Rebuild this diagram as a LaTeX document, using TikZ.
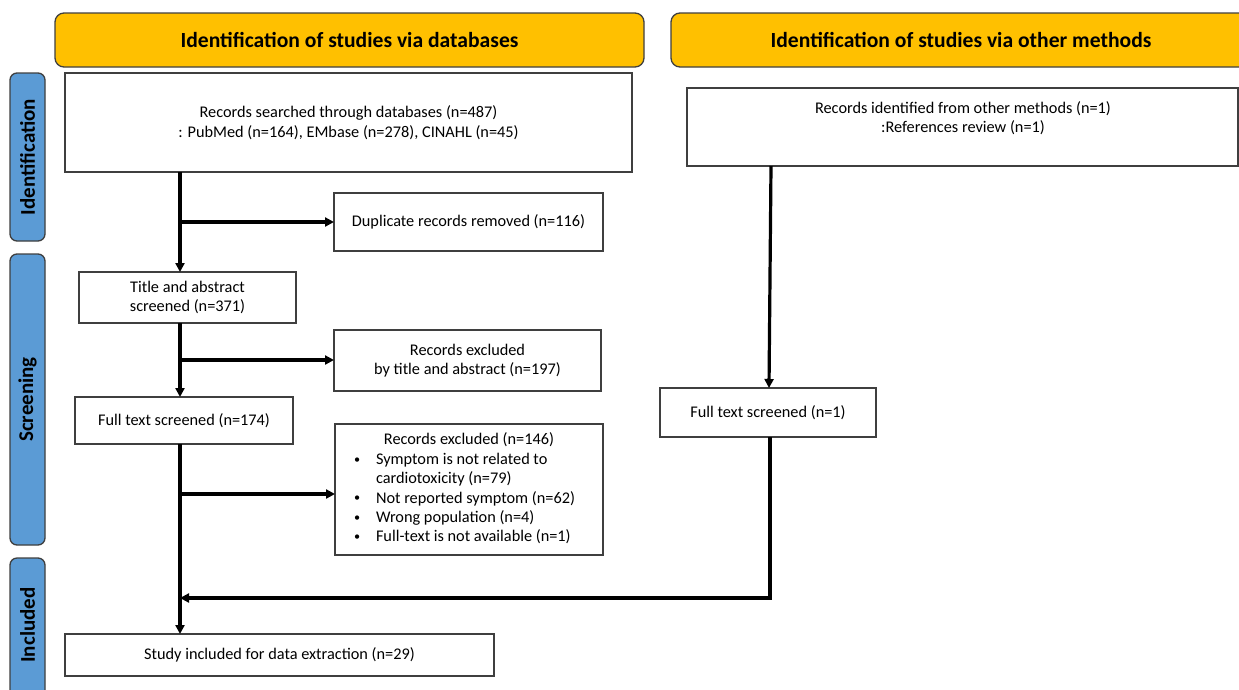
\documentclass[tikz,border=0pt]{standalone}
\usepackage{fontspec}
\setmainfont{Carlito}
\usetikzlibrary{arrows.meta}
\definecolor{hdr}{HTML}{FFC000}
\definecolor{side}{HTML}{5B9BD5}
\definecolor{bord}{HTML}{3F3F3F}
\tikzset{
  box/.style={draw=bord, line width=1.3pt, fill=white, inner sep=0pt, outer sep=0pt, anchor=north west, align=center, font=\fontsize{16.3}{19.4}\selectfont},
  hdrbox/.style={draw=bord, line width=1.3pt, fill=hdr, rounded corners=9pt, inner sep=0pt, outer sep=0pt, anchor=north west, font=\fontsize{21.6}{24}\selectfont\bfseries},
  sidebox/.style={draw=bord, line width=1.3pt, fill=side, rounded corners=7pt, inner sep=0pt, outer sep=0pt, anchor=north west},
  sidetext/.style={rotate=90, font=\fontsize{21}{24}\selectfont\bfseries},
  plain/.style={font=\fontsize{16.3}{19.4}\selectfont, align=center, inner sep=0pt},
  arr/.style={line width=3.2pt, -{Triangle[length=9pt,width=9pt]}}
}
\newcommand{\bul}{\makebox[28pt][l]{\hspace{6pt}\raisebox{0.15ex}{\scalebox{0.75}{\textbullet}}}}
\begin{document}
\begin{tikzpicture}[x=1pt,y=-1pt]
\useasboundingbox (0,0) rectangle (1239,689);
\clip (0,0) rectangle (1239,689);
\fill[white] (0,0) rectangle (1239,689);
% headers
\node[hdrbox, minimum width=589, minimum height=54] (h1) at (55,13) {Identification of studies via databases};
\node[hdrbox, minimum width=579, minimum height=54] (h2) at (671,13) {};
\node[font=\fontsize{21.6}{24}\selectfont\bfseries, inner sep=0pt] (h2t) at (961,40) {Identification of studies via other methods};
% side labels
\node[sidebox, minimum width=35, minimum height=168] (s1) at (10,73) {};
\node[sidetext] (s1t) at (s1.center) {Identification};
\node[sidebox, minimum width=35, minimum height=291] (s2) at (10,254) {};
\node[sidetext] (s2t) at (s2.center) {Screening};
\node[sidebox, minimum width=35, minimum height=144] (s3) at (10,558) {};
\node[sidetext] (s3t) at (27.5,625) {Included};
% left column
\node[box, minimum width=567, minimum height=99] (rec) at (65,73) {Records searched through databases (n=487)\\: PubMed (n=164), EMbase (n=278), CINAHL (n=45)};
\node[box, minimum width=269, minimum height=58] (dup) at (334,193) {Duplicate records removed (n=116)};
\node[box, minimum width=217, minimum height=51] (tit) at (79,272) {Title and abstract\\screened (n=371)};
\node[box, minimum width=267, minimum height=61] (exc1) at (334,330) {Records excluded\\by title and abstract (n=197)};
\node[box, minimum width=218, minimum height=47] (ft) at (75,397) {Full text screened (n=174)};
\node[box, minimum width=268, minimum height=131] (exc2) at (335,424) {%
  \begin{tabular}{@{}l@{}l@{}}
  \multicolumn{2}{@{}c@{}}{Records excluded (n=146)}\\
  \bul & \makebox[214pt][l]{Symptom is not related to}\\
   & cardiotoxicity (n=79)\\
  \bul & Not reported symptom (n=62)\\
  \bul & Wrong population (n=4)\\
  \bul & Full-text is not available (n=1)
  \end{tabular}};
\node[box, minimum width=429, minimum height=42] (inc) at (65,634) {Study included for data extraction (n=29)};
% right column
\node[box, minimum width=551, minimum height=78] (oth) at (687,88) {};
\node[plain] (otht) at (963,118) {Records identified from other methods (n=1)\\:References review (n=1)};
\node[box, minimum width=216, minimum height=49] (ft2) at (660,388) {Full text screened (n=1)};
% connectors
\coordinate (b1) at (180,222);
\coordinate (b2) at (180,360);
\coordinate (b3) at (180,494);
\coordinate (j) at (180,598);
\coordinate (rc) at (770,598);
\draw[arr] (rec.south -| b1) -- (tit.north -| b1);
\draw[arr] (b1) -- (dup.west |- b1);
\draw[arr] (tit.south -| b2) -- (ft.north -| b2);
\draw[arr] (b2) -- (exc1.west |- b2);
\draw[arr] (ft.south -| b3) -- (inc.north -| b3);
\draw[arr] (b3) -- (exc2.west |- b3);
\draw[arr] (oth.south -| 771,0) -- (ft2.north -| 769,0);
\draw[arr] (ft2.south -| rc) -- (rc) -- (j);
\end{tikzpicture}
\end{document}
